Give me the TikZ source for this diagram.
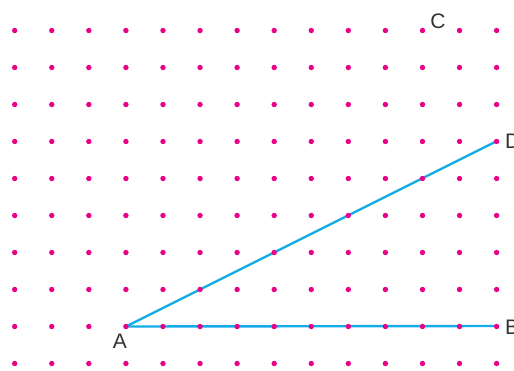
\documentclass[tikz,border=0pt]{standalone}
\usepackage{fontspec}
\setmainfont{Liberation Sans}
\definecolor{dotmag}{RGB}{232,0,135}
\definecolor{linecyan}{RGB}{20,172,232}
\definecolor{labelgray}{RGB}{50,50,50}
\begin{document}
\begin{tikzpicture}[x=1pt,y=-1pt,
  griddot/.style={circle,fill=dotmag,inner sep=0pt,minimum size=5.4pt},
  segline/.style={draw=linecyan,line width=2.4pt},
  ptlabel/.style={text=labelgray,font=\fontsize{21}{25}\selectfont,inner sep=0pt}]
\useasboundingbox (0,0) rectangle (514,370);
% points
\coordinate (A) at (126,326.5);
\coordinate (B) at (497,326);
\coordinate (D) at (497,141);
% segments
\draw[segline] (A) -- (B);
\draw[segline] (A) -- (D);
% dot grid
\foreach \i in {0,...,13}{
  \foreach \j in {0,...,9}{
    \node[griddot] (g-\i-\j) at ({14.7+37.07*\i},{30.5+37*\j}) {};
  }
}
% labels
\node[ptlabel] (lA) at (120,341) {A};
\node[ptlabel,anchor=west] (lB) at (505,327) {B};
\node[ptlabel] (lC) at (438,21) {C};
\node[ptlabel,anchor=west] (lD) at (505,141) {D};
\end{tikzpicture}
\end{document}
